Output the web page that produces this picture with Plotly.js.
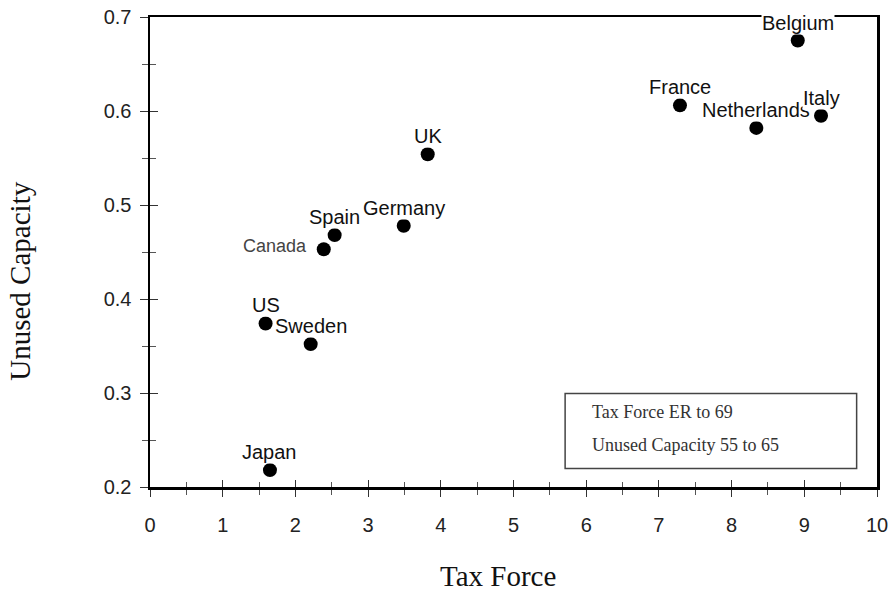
<!DOCTYPE html>
<html>
<head>
<meta charset="utf-8">
<script src="https://cdn.plot.ly/plotly-3.0.1.min.js"></script>
<style>html,body{margin:0;padding:0;background:#fff;}#chart{width:889px;height:596px;}</style>
</head>
<body>
<div id="chart"></div>
<script>
// ---- data ----
var countries = ["Belgium","France","Netherlands","Italy","UK","Germany","Spain","Canada","US","Sweden","Japan"];
var taxForce = [8.91, 7.29, 8.34, 9.23, 3.82, 3.49, 2.54, 2.39, 1.59, 2.21, 1.65];
var unusedCapacity = [0.675, 0.606, 0.582, 0.595, 0.554, 0.478, 0.468, 0.453, 0.374, 0.352, 0.218];
var xTickVals = [0,1,2,3,4,5,6,7,8,9,10];
var yTickVals = [0.2,0.3,0.4,0.5,0.6,0.7];
var yTickText = ["0.2","0.3","0.4","0.5","0.6","0.7"];
var noteLines = ["Tax Force ER to 69", "Unused Capacity 55 to 65"];

// ---- styling ----
var labelFont = {family: "Liberation Sans, Arial, sans-serif", size: 20, color: "#111"};
var canadaFont = {family: "Liberation Sans, Arial, sans-serif", size: 18, color: "#444"};

var annotations = countries.map(function(name, i){
  var left = (name === "Canada");
  return {
    x: taxForce[i], y: unusedCapacity[i], xref: "x", yref: "y",
    text: name, showarrow: false,
    font: left ? canadaFont : labelFont,
    xanchor: left ? "right" : "center", yanchor: "middle",
    xshift: left ? -16 : 0, yshift: left ? 3 : 18,
    bgcolor: "white", borderpad: 0
  };
});
annotations.push({
  x: 6.05, y: 0.2795, xref: "x", yref: "y", text: noteLines[0], showarrow: false,
  xanchor: "left", yanchor: "middle",
  font: {family: "Liberation Serif, Times New Roman, serif", size: 18, color: "#333"}
});
annotations.push({
  x: 6.05, y: 0.2444, xref: "x", yref: "y", text: noteLines[1], showarrow: false,
  xanchor: "left", yanchor: "middle",
  font: {family: "Liberation Serif, Times New Roman, serif", size: 18, color: "#333"}
});
annotations.push({
  x: 0.479, y: -0.19, xref: "paper", yref: "paper", text: "Tax Force", showarrow: false,
  xanchor: "center", yanchor: "middle",
  font: {family: "Liberation Serif, Times New Roman, serif", size: 29, color: "#111"}
});
annotations.push({
  x: -0.178, y: 0.438, xref: "paper", yref: "paper", text: "Unused Capacity", showarrow: false,
  textangle: -90, xanchor: "center", yanchor: "middle",
  font: {family: "Liberation Serif, Times New Roman, serif", size: 29, color: "#111"}
});

var tickFont = {family: "Liberation Sans, Arial, sans-serif", size: 20, color: "#222"};

var traces = [
  {
    x: taxForce, y: unusedCapacity, type: "scatter", mode: "markers",
    marker: {size: 14, color: "#000"}, hoverinfo: "skip", showlegend: false
  },
  {
    x: [], y: [], type: "scatter", mode: "markers", xaxis: "x2", yaxis: "y2", showlegend: false
  }
];

var layout = {
  width: 889, height: 596,
  margin: {l: 150, r: 12, t: 17, b: 109},
  paper_bgcolor: "#fff", plot_bgcolor: "#fff",
  showlegend: false,
  xaxis: {
    range: [0, 10], tickvals: xTickVals, ticktext: xTickVals.map(String),
    showgrid: false, zeroline: false, showline: true, linecolor: "#000", linewidth: 2.5,
    mirror: true, ticks: "outside", ticklen: 7, tickwidth: 1, tickcolor: "#333",
    minor: {dtick: 0.5, tick0: 0, ticks: "outside", ticklen: 5, tickwidth: 1, tickcolor: "#555"},
    tickfont: tickFont, ticklabelstandoff: 11
  },
  yaxis: {
    range: [0.2, 0.7], tickvals: yTickVals, ticktext: yTickText,
    showgrid: false, zeroline: false, showline: true, linecolor: "#000", linewidth: 2.5,
    mirror: true, ticks: "outside", ticklen: 8, tickwidth: 1, tickcolor: "#333",
    minor: {dtick: 0.05, tick0: 0.2, ticks: "outside", ticklen: 6, tickwidth: 1, tickcolor: "#555"},
    tickfont: tickFont, ticklabelstandoff: 4
  },
  xaxis2: {
    overlaying: "x", anchor: "y2", range: [0, 10], tickvals: xTickVals, showticklabels: false,
    showgrid: false, zeroline: false, showline: false,
    ticks: "inside", ticklen: 7, tickwidth: 1, tickcolor: "#333",
    minor: {dtick: 0.5, tick0: 0, ticks: "inside", ticklen: 5, tickwidth: 1, tickcolor: "#555"}
  },
  yaxis2: {
    overlaying: "y", anchor: "x2", side: "left", range: [0.2, 0.7], tickvals: yTickVals, showticklabels: false,
    showgrid: false, zeroline: false, showline: false,
    ticks: "inside", ticklen: 8, tickwidth: 1, tickcolor: "#333",
    minor: {dtick: 0.05, tick0: 0.2, ticks: "inside", ticklen: 6, tickwidth: 1, tickcolor: "#555"}
  },
  shapes: [{
    type: "rect", xref: "x", yref: "y", x0: 5.71, x1: 9.72, y0: 0.2196, y1: 0.2994,
    line: {color: "#444", width: 1.5}, fillcolor: "rgba(0,0,0,0)"
  }],
  annotations: annotations
};

Plotly.newPlot("chart", traces, layout, {staticPlot: true, displayModeBar: false});
</script>
</body>
</html>
